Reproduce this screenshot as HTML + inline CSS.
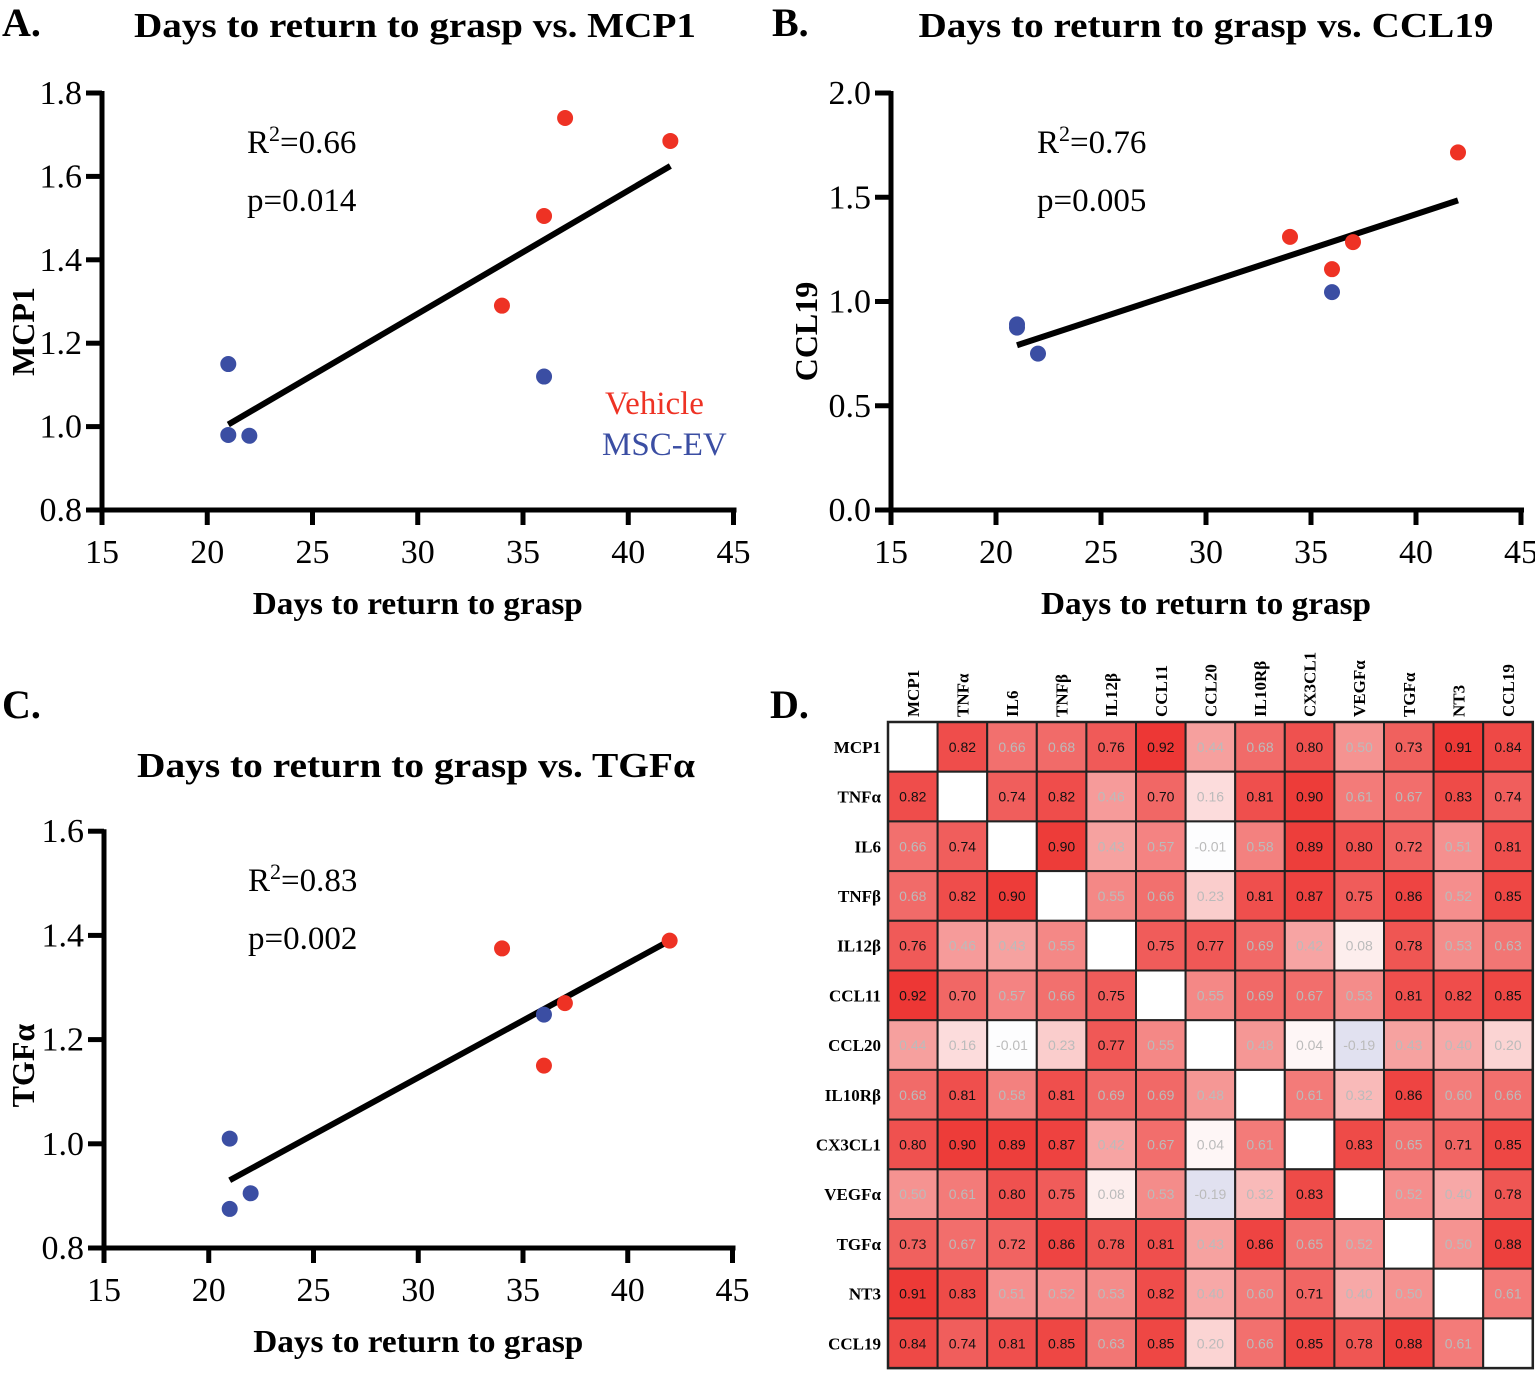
<!DOCTYPE html>
<html><head><meta charset="utf-8"><style>
html,body{margin:0;padding:0;background:#fff;}
svg{display:block;}
text{font-family:"Liberation Serif",serif;}
</style></head><body>
<svg id="s" width="1535" height="1373" xmlns="http://www.w3.org/2000/svg"></svg>
<script>
const S=document.getElementById('s');let h='';
const RED='#ee3224',BLUE='#3b4ea3';
function plot(o){
 const X=v=>o.x0+(v-15)*o.sx, Y=v=>o.y0-(v-o.ymin)*o.sy;
 h+=`<text x="${o.lx}" y="${o.ly}" font-size="40" font-weight="bold">${o.letter}</text>`;
 h+=`<text x="${o.tx}" y="${o.ty}" font-size="35" font-weight="bold" text-anchor="middle" textLength="${o.tl}" lengthAdjust="spacingAndGlyphs">${o.title}</text>`;
 h+=`<line x1="${o.x0-2}" y1="${o.y0}" x2="${X(45)+3}" y2="${o.y0}" stroke="#000" stroke-width="5"/>`;
 h+=`<line x1="${o.x0}" y1="${o.y0+2}" x2="${o.x0}" y2="${Y(o.ymax)-2}" stroke="#000" stroke-width="5"/>`;
 for(let v=15;v<=45;v+=5){const x=X(v);h+=`<line x1="${x}" y1="${o.y0}" x2="${x}" y2="${o.y0+15}" stroke="#000" stroke-width="5"/>`;
  h+=`<text x="${x}" y="${o.y0+53}" font-size="34" text-anchor="middle">${v}</text>`;}
 for(const v of o.yt){const y=Y(v);h+=`<line x1="${o.x0-16}" y1="${y}" x2="${o.x0}" y2="${y}" stroke="#000" stroke-width="5"/>`;
  h+=`<text x="${o.x0-20}" y="${y+11}" font-size="34" text-anchor="end">${v.toFixed(1)}</text>`;}
 h+=`<text x="${(o.x0+X(45))/2}" y="${o.y0+104}" font-size="32" font-weight="bold" text-anchor="middle" textLength="330" lengthAdjust="spacingAndGlyphs">Days to return to grasp</text>`;
 const ym=(o.y0+Y(o.ymax))/2+o.yoff;
 h+=`<text transform="translate(${o.yl},${ym}) rotate(-90)" font-size="32" font-weight="bold" text-anchor="middle">${o.ylab}</text>`;
 h+=`<text x="${o.rx}" y="${o.ry}" font-size="33">R<tspan font-size="22" dy="-12">2</tspan><tspan dy="12">=${o.r2}</tspan></text>`;
 h+=`<text x="${o.rx}" y="${o.ry+58}" font-size="33">p=${o.p}</text>`;
 h+=`<line x1="${X(o.l[0])}" y1="${Y(o.l[1])}" x2="${X(o.l[2])}" y2="${Y(o.l[3])}" stroke="#000" stroke-width="6"/>`;
 for(const p of o.red)h+=`<circle cx="${X(p[0])}" cy="${Y(p[1])}" r="8" fill="${RED}"/>`;
 for(const p of o.blue)h+=`<circle cx="${X(p[0])}" cy="${Y(p[1])}" r="8" fill="${BLUE}"/>`;
}
plot({letter:'A.',lx:2,ly:36,title:'Days to return to grasp vs. MCP1',tl:562,tx:415,ty:37,x0:102,sx:21.05,y0:510,ymin:0.8,ymax:1.8,sy:417,yt:[0.8,1.0,1.2,1.4,1.6,1.8],
 ylab:'MCP1',yl:34,yoff:30,rx:247,ry:153,r2:'0.66',p:'0.014',l:[21,1.005,42,1.625],
 red:[[34,1.29],[36,1.505],[37,1.74],[42,1.685]],blue:[[21,1.15],[21,0.98],[22,0.978],[36,1.12]]});
plot({letter:'B.',lx:772,ly:36,title:'Days to return to grasp vs. CCL19',tl:575,tx:1206,ty:37,x0:891,sx:21,y0:510,ymin:0,ymax:2.0,sy:208.5,yt:[0,0.5,1.0,1.5,2.0],
 ylab:'CCL19',yl:817,yoff:30,rx:1037,ry:153,r2:'0.76',p:'0.005',l:[21,0.79,42,1.485],
 red:[[34,1.31],[36,1.155],[37,1.285],[42,1.715]],blue:[[21,0.875],[21,0.89],[22,0.75],[36,1.045]]});
plot({letter:'C.',lx:2,ly:718,title:'Days to return to grasp vs. TGF&#945;',tl:558,tx:416,ty:777,x0:104,sx:20.95,y0:1248,ymin:0.8,ymax:1.6,sy:521,yt:[0.8,1.0,1.2,1.4,1.6],
 ylab:'TGF&#945;',yl:34,yoff:26,rx:248,ry:891,r2:'0.83',p:'0.002',l:[21,0.93,42,1.39],
 red:[[34,1.375],[42,1.39],[37,1.27],[36,1.15]],blue:[[21,1.01],[21,0.875],[22,0.905],[36,1.248]]});
h+=`<text x="605" y="414" font-size="33" fill="${RED}">Vehicle</text>`;
h+=`<text x="602" y="455" font-size="33" fill="${BLUE}">MSC-EV</text>`;
h+=`<text x="770" y="718" font-size="40" font-weight="bold">D.</text>`;
const L=['MCP1','TNF&#945;','IL6','TNF&#946;','IL12&#946;','CCL11','CCL20','IL10R&#946;','CX3CL1','VEGF&#945;','TGF&#945;','NT3','CCL19'];
const M=[
[null,.82,.66,.68,.76,.92,.44,.68,.80,.50,.73,.91,.84],
[.82,null,.74,.82,.46,.70,.16,.81,.90,.61,.67,.83,.74],
[.66,.74,null,.90,.43,.57,-.01,.58,.89,.80,.72,.51,.81],
[.68,.82,.90,null,.55,.66,.23,.81,.87,.75,.86,.52,.85],
[.76,.46,.43,.55,null,.75,.77,.69,.42,.08,.78,.53,.63],
[.92,.70,.57,.66,.75,null,.55,.69,.67,.53,.81,.82,.85],
[.44,.16,-.01,.23,.77,.55,null,.48,.04,-.19,.43,.40,.20],
[.68,.81,.58,.81,.69,.69,.48,null,.61,.32,.86,.60,.66],
[.80,.90,.89,.87,.42,.67,.04,.61,null,.83,.65,.71,.85],
[.50,.61,.80,.75,.08,.53,-.19,.32,.83,null,.52,.40,.78],
[.73,.67,.72,.86,.78,.81,.43,.86,.65,.52,null,.50,.88],
[.91,.83,.51,.52,.53,.82,.40,.60,.71,.40,.50,null,.61],
[.84,.74,.81,.85,.63,.85,.20,.66,.85,.78,.88,.61,null]];
const hx=888,hy=722,cw=49.6,ch=49.7;
function col(v){if(v<0){const t=-v*4;return `rgb(${Math.round(255-t*40)},${Math.round(255-t*40)},${Math.round(255-t*20)})`;}
 const t=Math.min(1,v*1.0);return `rgb(${Math.round(255-t*20)},${Math.round(255-t*217)},${Math.round(255-t*220)})`;}
for(let i=0;i<13;i++){
 h+=`<text transform="translate(${hx+i*cw+cw/2+6},${hy-5}) rotate(-90)" font-size="17" font-weight="bold">${L[i]}</text>`;
 h+=`<text x="${hx-7}" y="${hy+i*ch+ch/2+6}" font-size="17" font-weight="bold" text-anchor="end">${L[i]}</text>`;
 for(let j=0;j<13;j++){const v=M[i][j];const x=hx+j*cw,y=hy+i*ch;
  h+=`<rect x="${x}" y="${y}" width="${cw}" height="${ch}" fill="${v===null?'#fff':col(v)}" stroke="#222" stroke-width="2"/>`;
  if(v!==null){const s=(v<0?'-':'')+Math.abs(v).toFixed(2);
   h+=`<text x="${x+cw/2}" y="${y+ch/2+5}" font-size="14" text-anchor="middle" style="font-family:'Liberation Sans',sans-serif" fill="${v>=0.70?'#111':'#bbb'}">${s}</text>`;}
 }}
h+=`<rect x="${hx}" y="${hy}" width="${13*cw}" height="${13*ch}" fill="none" stroke="#222" stroke-width="2.5"/>`;
S.innerHTML=h;
</script>
</body></html>
